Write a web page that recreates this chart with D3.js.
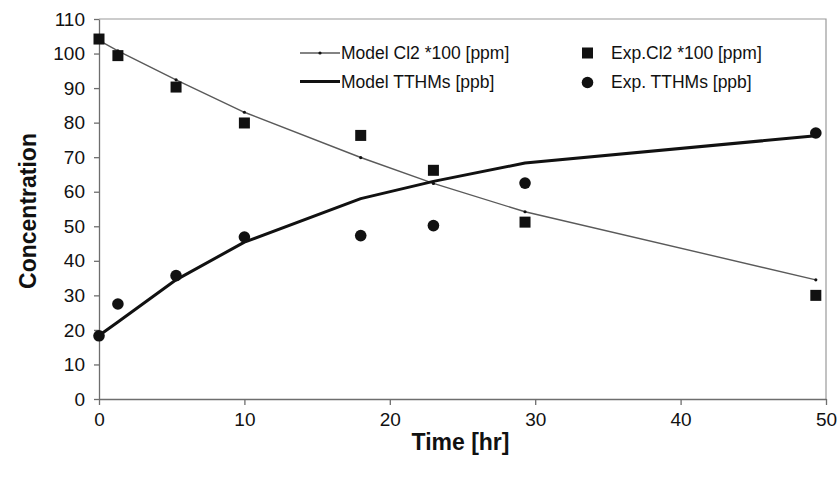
<!DOCTYPE html>
<html>
<head>
<meta charset="utf-8">
<script src="https://cdn.jsdelivr.net/npm/d3@7"></script>
<style>
  body { margin: 0; background: #fff; }
  text { font-family: "Liberation Sans", Arial, sans-serif; }
</style>
</head>
<body>
<div id="chart"></div>
<script>
// 1: DATA
const timeHr = [0, 1.3, 5.3, 10, 18, 23, 29.3, 49.3];
const modelCl2 = [103.8, 100.8, 92.4, 83, 69.9, 62.4, 54.2, 34.5];
const modelTTHM = [18.4, 22.3, 34.5, 45.4, 58, 63, 68.3, 76.2];
const expCl2 = [104.2, 99.4, 90.3, 79.9, 76.3, 66.2, 51.2, 30];
const expTTHM = [18.3, 27.5, 35.7, 46.9, 47.3, 50.2, 62.5, 77];
const xTicks = [0, 10, 20, 30, 40, 50];
const yTicks = d3.range(0, 111, 10);

// 2: SIZE
const W = 840, H = 480;
const margin = { top: 19, right: 14, bottom: 81, left: 99 };
const width = W - margin.left - margin.right;
const height = H - margin.top - margin.bottom;

const svg = d3.select("#chart").append("svg")
    .attr("width", W)
    .attr("height", H);

const g = svg.append("g")
    .attr("transform", `translate(${margin.left},${margin.top})`);

// 3: SCALES
const x = d3.scaleLinear().domain([0, 50]).range([0, width]);
const y = d3.scaleLinear().domain([0, 110]).range([height, 0]);

// plot area frame (top + right)
g.append("path")
    .attr("d", `M0,0H${width}V${height}`)
    .attr("fill", "none")
    .attr("stroke", "#9a9a9a")
    .attr("stroke-width", 1.2);

// 4: AXES
const xAxis = g.append("g")
    .attr("transform", `translate(0,${height})`)
    .call(d3.axisBottom(x).tickValues(xTicks).tickSize(6).tickSizeOuter(0).tickPadding(8));

const yAxis = g.append("g")
    .call(d3.axisLeft(y).tickValues(yTicks).tickSize(5).tickSizeOuter(0).tickPadding(9));

[xAxis, yAxis].forEach(a => {
    a.select(".domain").attr("stroke", "#6e6e6e").attr("stroke-width", 1.3);
    a.selectAll(".tick line").attr("stroke", "#6e6e6e").attr("stroke-width", 1.3);
    a.selectAll(".tick text")
        .attr("fill", "#111")
        .style("font-size", "19px")
        .style("font-family", "Liberation Sans, Arial, sans-serif");
});

// axis titles
svg.append("text")
    .attr("x", margin.left + x(25) - 2)
    .attr("y", 450)
    .attr("text-anchor", "middle")
    .style("font-size", "23px")
    .style("font-weight", "bold")
    .attr("fill", "#111")
    .text("Time [hr]");

svg.append("text")
    .attr("transform", `translate(36,${margin.top + y(55) + 2}) rotate(-90)`)
    .attr("text-anchor", "middle")
    .style("font-size", "23px")
    .style("font-weight", "bold")
    .attr("fill", "#111")
    .text("Concentration");

// 5: LINES
const pts = vals => timeHr.map((t, i) => [t, vals[i]]);
const line = d3.line().x(d => x(d[0])).y(d => y(d[1]));

g.append("path")
    .datum(pts(modelCl2))
    .attr("fill", "none")
    .attr("stroke", "#5a5a5a")
    .attr("stroke-width", 1.4)
    .attr("d", line);

g.selectAll(".cl2dot")
    .data(pts(modelCl2))
    .enter().append("circle")
    .attr("class", "cl2dot")
    .attr("cx", d => x(d[0]))
    .attr("cy", d => y(d[1]))
    .attr("r", 1.6)
    .attr("fill", "#111");

g.append("path")
    .datum(pts(modelTTHM))
    .attr("fill", "none")
    .attr("stroke", "#111")
    .attr("stroke-width", 3)
    .attr("stroke-linejoin", "round")
    .attr("d", line);

// 6: EXPERIMENTAL POINTS
const sq = 11;
g.selectAll(".sq")
    .data(pts(expCl2))
    .enter().append("rect")
    .attr("class", "sq")
    .attr("x", d => x(d[0]) - sq / 2)
    .attr("y", d => y(d[1]) - sq / 2)
    .attr("width", sq)
    .attr("height", sq)
    .attr("fill", "#111");

g.selectAll(".dot")
    .data(pts(expTTHM))
    .enter().append("circle")
    .attr("class", "dot")
    .attr("cx", d => x(d[0]))
    .attr("cy", d => y(d[1]))
    .attr("r", 5.8)
    .attr("fill", "#111");

// 7: LEGEND
const legend = svg.append("g");
const legFont = "17.5px";

legend.append("line").attr("x1", 300).attr("x2", 340).attr("y1", 53).attr("y2", 53)
    .attr("stroke", "#5a5a5a").attr("stroke-width", 1.4);
legend.append("circle").attr("cx", 320).attr("cy", 53).attr("r", 1.6).attr("fill", "#111");
legend.append("text").attr("x", 341).attr("y", 59).style("font-size", legFont).attr("fill", "#111")
    .text("Model Cl2 *100 [ppm]");

legend.append("line").attr("x1", 300).attr("x2", 340).attr("y1", 81.5).attr("y2", 81.5)
    .attr("stroke", "#111").attr("stroke-width", 3);
legend.append("text").attr("x", 341).attr("y", 88).style("font-size", legFont).attr("fill", "#111")
    .text("Model TTHMs [ppb]");

legend.append("rect").attr("x", 582).attr("y", 47.5).attr("width", sq).attr("height", sq).attr("fill", "#111");
legend.append("text").attr("x", 611).attr("y", 59).style("font-size", legFont).attr("fill", "#111")
    .text("Exp.Cl2 *100 [ppm]");

legend.append("circle").attr("cx", 587.5).attr("cy", 82.5).attr("r", 5.8).attr("fill", "#111");
legend.append("text").attr("x", 611).attr("y", 88).style("font-size", legFont).attr("fill", "#111")
    .text("Exp. TTHMs [ppb]");
</script>
</body>
</html>
